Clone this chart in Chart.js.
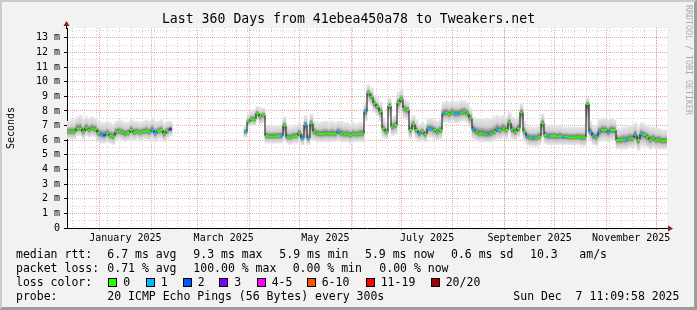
<!DOCTYPE html>
<html>
<head>
<meta charset="utf-8">
<script src="https://cdn.jsdelivr.net/npm/chart.js@4.4.1/dist/chart.umd.min.js"></script>
<style>
  html, body { margin: 0; padding: 0; background: #fff; }
  #wrap { position: relative; width: 697px; height: 310px; background: #f2f2f2; overflow: hidden; }
  #frame { position: absolute; left: 0; top: 0; right: 0; bottom: 0; border-top: 2px solid #cbcbcb; border-left: 2px solid #cbcbcb; border-right: 3px solid #9c9c9c; border-bottom: 3px solid #9c9c9c; pointer-events: none; }
  canvas { position: absolute; left: 0; top: 0; }
  .t { position: absolute; font: 11.5px "DejaVu Sans Mono", monospace; white-space: pre; line-height: 14px; color: #000; }
  .box { position: absolute; top: 278px; width: 9px; height: 9px; box-sizing: border-box; border: 1px solid #000; }
  #mark { position: absolute; left: 684px; top: 5px; writing-mode: vertical-rl; font: 8.3px "DejaVu Sans Mono", monospace; color: #ababab; }
</style>
</head>
<body>
<div id="wrap">
  <canvas id="chart" width="697" height="310"></canvas>
  <div id="mark">RRDTOOL / TOBI OETIKER</div>
  <div id="legend"></div>
  <div id="frame"></div>
</div>
<script>
// time frame: last 360 days up to the graph timestamp
const END = Date.UTC(2025, 11, 7, 11, 9, 58);
const DAY = 864e5;
const SPAN = 360;
const START = END - SPAN * DAY;
const STEP = 1.8; // days per sample column

// median rtt in ms, one value per sample (null = no data)
const median = [
  6.58, 6.58, 6.58, 6.81, 6.81, 6.58, 6.85, 6.72, 6.81, 6.76,
  6.5, 6.4, 6.35, 6.45, 6.3, 6.27, 6.58, 6.58, 6.54, 6.45,
  6.5, 6.7, 6.54, 6.58, 6.54, 6.58, 6.63, 6.58, 6.7, 6.5,
  6.63, 6.7, 6.45, 6.63, 6.76,
  null, null, null, null, null, null, null, null, null, null, null, null,
  null, null, null, null, null, null, null, null, null, null, null, null,
  6.58, 7.27, 7.43, 7.43, 7.84, 7.61, 7.72, 6.29, 6.26, 6.26,
  6.26, 6.29, 6.29, 7.0, 6.2, 6.2, 6.26, 6.29, 6.47, 6.13,
  7.05, 6.13, 7.16, 6.58, 6.47, 6.43, 6.43, 6.47, 6.43, 6.47,
  6.43, 6.58, 6.47, 6.4, 6.43, 6.36, 6.43, 6.4, 6.43, 6.47,
  7.95, 9.25, 8.98, 8.52, 8.29, 7.95, 6.81, 6.58, 8.34, 6.93,
  7.04, 8.57, 8.8, 8.18, 8.07, 6.7, 7.1, 6.7, 6.47, 6.58,
  6.4, 6.81, 6.81, 6.7, 6.58, 6.7, 7.84, 7.88, 7.8, 7.9,
  7.84, 7.84, 7.9, 7.95, 7.84, 7.5, 6.74, 6.58, 6.47, 6.47,
  6.4, 6.4, 6.47, 6.58, 6.74, 6.7, 6.81, 6.7, 7.2, 6.74,
  6.58, 6.81, 7.9, 6.58, 6.24, 6.17, 6.17, 6.17, 6.24, 7.16,
  6.36, 6.29, 6.29, 6.29, 6.24, 6.29, 6.24, 6.24, 6.2, 6.2,
  6.2, 6.24, 6.2, 6.2, 8.47, 6.58, 6.29, 6.2, 6.58, 6.7,
  6.7, 6.58, 6.7, 6.7, 6.01, 6.01, 6.05, 6.05, 6.13, 6.13,
  6.36, 6.01, 6.43, 6.36, 6.24, 6.05, 6.13, 6.01, 6.05, 5.95, 5.95
];

// upper edge of the smoke (ms)
const smokeHi = [
  7.3, 7.4, 7.4, 7.6, 7.7, 7.5, 7.6, 7.5, 7.6, 7.5,
  7.3, 7.2, 7.2, 7.3, 7.2, 7.1, 7.3, 7.4, 7.3, 7.2,
  7.2, 7.4, 7.3, 7.3, 7.2, 7.3, 7.4, 7.3, 7.5, 7.3,
  7.3, 7.4, 7.2, 7.3, 7.3,
  null, null, null, null, null, null, null, null, null, null, null, null,
  null, null, null, null, null, null, null, null, null, null, null, null,
  7.0, 7.8, 8.0, 8.1, 8.3, 8.2, 8.2, 7.0, 7.0, 7.0,
  7.0, 7.0, 7.0, 7.6, 7.0, 6.9, 7.0, 7.0, 7.2, 6.9,
  7.7, 6.9, 7.8, 7.3, 7.2, 7.2, 7.3, 7.3, 7.2, 7.3,
  7.2, 7.3, 7.3, 7.2, 7.2, 7.1, 7.2, 7.1, 7.2, 7.2,
  8.6, 9.8, 9.6, 9.1, 8.9, 8.6, 7.5, 7.2, 8.9, 7.6,
  7.7, 9.3, 9.5, 8.8, 8.7, 7.4, 7.7, 7.4, 7.1, 7.2,
  7.1, 7.5, 7.5, 7.4, 7.3, 7.4, 8.6, 8.7, 8.6, 8.7,
  8.6, 8.6, 8.7, 8.7, 8.6, 8.2, 7.6, 7.5, 7.5, 7.5,
  7.5, 7.5, 7.5, 7.6, 7.7, 7.6, 7.7, 7.6, 7.9, 7.6,
  7.5, 7.6, 8.5, 7.3, 7.0, 6.9, 6.9, 6.9, 7.0, 7.8,
  7.1, 7.0, 7.0, 7.0, 7.0, 7.0, 6.9, 6.9, 6.9, 6.9,
  6.9, 6.9, 6.9, 6.9, 8.9, 7.3, 7.0, 7.0, 7.4, 7.5,
  7.5, 7.4, 7.5, 7.4, 6.9, 6.8, 6.9, 6.9, 7.0, 7.0,
  7.2, 6.9, 7.2, 7.1, 7.0, 6.9, 6.9, 6.8, 6.8, 6.7, 6.7
];

// lower edge of the smoke (ms)
const smokeLo = [
  6.1, 6.1, 6.1, 6.3, 6.3, 6.1, 6.3, 6.2, 6.3, 6.2,
  5.9, 5.8, 5.8, 5.9, 5.8, 5.7, 6.0, 6.1, 6.0, 5.9,
  6.0, 6.1, 6.0, 6.1, 6.0, 6.1, 6.1, 6.0, 6.1, 5.9,
  6.1, 6.1, 5.9, 6.1, 6.3,
  null, null, null, null, null, null, null, null, null, null, null, null,
  null, null, null, null, null, null, null, null, null, null, null, null,
  6.2, 6.9, 7.0, 7.0, 7.4, 7.1, 7.2, 5.8, 5.8, 5.8,
  5.8, 5.8, 5.8, 6.0, 5.8, 5.7, 5.8, 5.8, 5.9, 5.7,
  6.0, 5.7, 6.0, 6.0, 5.9, 5.9, 5.9, 5.9, 5.9, 5.9,
  5.9, 6.0, 5.9, 5.9, 5.9, 5.8, 5.9, 5.9, 5.9, 5.9,
  7.3, 8.6, 8.4, 7.9, 7.7, 7.3, 6.2, 6.1, 7.6, 6.3,
  6.4, 7.8, 8.1, 7.5, 7.4, 6.1, 6.5, 6.1, 5.9, 6.0,
  5.9, 6.2, 6.2, 6.1, 6.0, 6.1, 7.2, 7.3, 7.2, 7.3,
  7.2, 7.2, 7.3, 7.3, 7.2, 6.9, 6.1, 6.0, 5.9, 5.9,
  5.9, 5.9, 5.9, 6.0, 6.1, 6.1, 6.2, 6.1, 6.5, 6.1,
  6.0, 6.2, 7.0, 6.0, 5.7, 5.6, 5.6, 5.6, 5.7, 6.2,
  5.8, 5.7, 5.7, 5.7, 5.7, 5.7, 5.7, 5.7, 5.7, 5.7,
  5.7, 5.7, 5.6, 5.6, 6.5, 6.0, 5.7, 5.6, 5.9, 6.0,
  6.0, 5.9, 6.0, 6.0, 5.4, 5.4, 5.4, 5.4, 5.5, 5.5,
  5.6, 5.3, 5.6, 5.6, 5.5, 5.4, 5.5, 5.4, 5.4, 5.4, 5.4
];

// lost pings bucket per sample (index into lossColors)
const loss = [
  0, 0, 0, 0, 0, 0, 0, 0, 0, 0,
  0, 1, 2, 0, 0, 0, 0, 0, 0, 0,
  0, 0, 0, 0, 0, 0, 0, 0, 1, 1,
  0, 0, 0, 0, 3,
  0, 0, 0, 0, 0, 0, 0, 0, 0, 0, 0, 0,
  0, 0, 0, 0, 0, 0, 0, 0, 0, 0, 0, 0,
  1, 0, 0, 0, 0, 0, 0, 0, 0, 0,
  0, 0, 1, 0, 0, 0, 0, 0, 0, 1,
  1, 1, 0, 0, 0, 0, 0, 0, 0, 0,
  0, 1, 0, 0, 0, 0, 0, 0, 0, 0,
  1, 0, 0, 0, 0, 0, 0, 0, 0, 0,
  0, 0, 0, 0, 0, 0, 0, 0, 1, 0,
  0, 1, 1, 0, 0, 0, 1, 0, 0, 0,
  1, 1, 0, 0, 0, 0, 1, 0, 0, 0,
  0, 1, 0, 0, 1, 0, 0, 0, 0, 0,
  0, 0, 0, 0, 1, 0, 1, 0, 0, 0,
  0, 1, 0, 0, 0, 0, 1, 0, 0, 0,
  0, 0, 0, 0, 0, 1, 1, 0, 1, 0,
  0, 1, 0, 0, 0, 0, 0, 1, 0, 0,
  1, 0, 1, 0, 0, 0, 0, 0, 0, 0, 0
];

const lossColors = ['#26ff00', '#00b8ff', '#0059ff', '#7e00ff', '#ff00ff', '#ff5500', '#ff0000', '#a10000'];
const lossLabels = ['0', '1', '2', '3', '4-5', '6-10', '11-19', '20/20'];

const yTicks = [0, 1, 2, 3, 4, 5, 6, 7, 8, 9, 10, 11, 12, 13];
const yMax = 13.67;
const xLabels = ['January 2025', 'March 2025', 'May 2025', 'July 2025', 'September 2025', 'November 2025'];
const xLabelMonths = [0, 2, 4, 6, 8, 10]; // months of 2025

const MONO = '"DejaVu Sans Mono", monospace';

function dayOf(t) { return (t - START) / DAY; }
const sampleDay = median.map((_, i) => STEP / 2 + STEP * i);

const monthStarts = [];
for (let k = -1; k <= 12; k++) {
  const d = dayOf(Date.UTC(2025, k, 1));
  if (d >= 0 && d <= SPAN) monthStarts.push(d);
}
const labelDays = xLabelMonths.map(m => (dayOf(Date.UTC(2025, m, 1)) + dayOf(Date.UTC(2025, m + 1, 1))) / 2);
const weekDays = [];
for (let t = Date.UTC(2024, 11, 16); t <= END; t += 7 * DAY) weekDays.push(dayOf(t));
const halfTicks = yTicks.map(v => v + 0.5).filter(v => v < yMax);

function smokeFill(ctx) {
  const chart = ctx.chart;
  const ys = chart.scales.y;
  const i = ctx.dataIndex;
  if (!ys || smokeHi[i] == null) return '#d8d8d8';
  const top = ys.getPixelForValue(smokeHi[i]);
  const bot = ys.getPixelForValue(smokeLo[i]);
  if (!isFinite(top) || !isFinite(bot) || bot - top < 1) return '#bbbbbb';
  const m = Math.min(0.9, Math.max(0.1, (smokeHi[i] - median[i]) / (smokeHi[i] - smokeLo[i])));
  const g = chart.ctx.createLinearGradient(0, top, 0, bot);
  g.addColorStop(0, '#e8e8e8');
  g.addColorStop(m * 0.55, '#d0d0d0');
  g.addColorStop(m, '#606060');
  g.addColorStop(m + (1 - m) * 0.45, '#c6c6c6');
  g.addColorStop(1, '#e8e8e8');
  return g;
}

const plotBg = {
  id: 'plotBg',
  beforeDraw(chart) {
    const { ctx, chartArea: a } = chart;
    ctx.save();
    ctx.fillStyle = '#ffffff';
    ctx.fillRect(a.left, a.top, a.right - a.left, a.bottom - a.top);
    ctx.restore();
  }
};

const axisArrows = {
  id: 'axisArrows',
  afterDraw(chart) {
    const { ctx, chartArea: a } = chart;
    const x0 = Math.round(a.left) - 0.5;
    const y0 = Math.round(a.bottom) + 0.5;
    ctx.save();
    ctx.strokeStyle = '#000';
    ctx.lineWidth = 1;
    ctx.beginPath();
    ctx.moveTo(x0, a.top + 1); ctx.lineTo(x0, a.top - 3);
    ctx.moveTo(a.right - 1, y0); ctx.lineTo(a.right + 2, y0);
    ctx.stroke();
    ctx.fillStyle = '#8c1c1c';
    ctx.beginPath();
    ctx.moveTo(x0 - 3, a.top - 2); ctx.lineTo(x0 + 3, a.top - 2); ctx.lineTo(x0, a.top - 7);
    ctx.closePath(); ctx.fill();
    ctx.beginPath();
    ctx.moveTo(a.right + 1, y0 - 3); ctx.lineTo(a.right + 1, y0 + 3); ctx.lineTo(a.right + 6, y0);
    ctx.closePath(); ctx.fill();
    ctx.restore();
  }
};

const points = median.map((m, i) => ({ x: sampleDay[i], y: m }));
const smoke = median.map((m, i) => ({ x: sampleDay[i], y: m == null ? null : [smokeLo[i], smokeHi[i]] }));

new Chart(document.getElementById('chart'), {
  type: 'bar',
  data: {
    datasets: [
      {
        type: 'line',
        data: points,
        showLine: false,
        pointStyle: 'line',
        pointRadius: 1.5,
        pointHoverRadius: 1.5,
        pointBorderWidth: 2,
        pointBorderColor: loss.map(l => lossColors[l]),
        pointBackgroundColor: loss.map(l => lossColors[l]),
        order: 0
      },
      {
        type: 'line',
        data: points,
        stepped: 'middle',
        borderColor: '#111',
        borderWidth: 1,
        pointRadius: 0,
        spanGaps: false,
        order: 1
      },
      {
        type: 'bar',
        data: smoke,
        backgroundColor: smokeFill,
        borderWidth: 0,
        barThickness: 3,
        grouped: false,
        order: 2
      }
    ]
  },
  options: {
    responsive: false,
    devicePixelRatio: 1,
    animation: false,
    events: [],
    layout: { padding: { left: 0, right: 0, top: 0, bottom: 62 } },
    plugins: {
      legend: { display: false },
      tooltip: { enabled: false },
      title: {
        display: true,
        text: 'Last 360 Days from 41ebea450a78 to Tweakers.net',
        color: '#000',
        font: { family: MONO, size: 13.2, weight: 'normal' },
        padding: { top: 12, bottom: 0.2 }
      }
    },
    scales: {
      x: { type: 'linear', min: 0, max: SPAN, display: false, offset: false, grid: { offset: false } },
      xMinor: {
        type: 'linear', position: 'bottom', min: 0, max: SPAN, offset: false, weight: 0,
        afterBuildTicks: s => { s.ticks = weekDays.map(v => ({ value: v })); },
        afterFit: s => { s.height = 0; },
        ticks: { display: false, autoSkip: false },
        grid: { offset: false, color: 'rgba(143,143,143,0.45)', drawTicks: false },
        border: { display: false, dash: [1, 2] }
      },
      xMajor: {
        type: 'linear', position: 'bottom', min: 0, max: SPAN, offset: false, weight: 0,
        afterBuildTicks: s => { s.ticks = monthStarts.map(v => ({ value: v })); },
        afterFit: s => { s.height = 0; },
        ticks: { display: false, autoSkip: false },
        grid: { offset: false, color: 'rgba(226,80,80,0.5)', tickColor: 'rgba(226,80,80,0.8)', tickLength: 2, tickBorderDash: [] },
        border: { display: false, dash: [1, 1] }
      },
      xLab: {
        type: 'linear', position: 'bottom', min: 0, max: SPAN, offset: false, weight: 2,
        afterBuildTicks: s => { s.ticks = labelDays.map(v => ({ value: v })); },
        afterFit: s => { s.height = 20; },
        ticks: {
          autoSkip: false, maxRotation: 0, padding: 4, color: '#000',
          font: { family: MONO, size: 10 },
          callback: (v, i) => xLabels[i]
        },
        grid: { display: false, drawTicks: false, offset: false },
        border: { display: true, color: '#000', width: 1 }
      },
      y: {
        type: 'linear', position: 'left', min: 0, max: yMax, weight: 1,
        afterBuildTicks: s => { s.ticks = yTicks.map(v => ({ value: v })); },
        afterFit: s => { s.width = 67; },
        ticks: {
          padding: 4, color: '#000',
          font: { family: MONO, size: 10 },
          callback: v => (v === 0 ? '0' : v + ' m')
        },
        grid: { color: 'rgba(226,80,80,0.5)', tickColor: '#000', tickLength: 3, tickBorderDash: [] },
        border: { display: true, color: '#000', width: 1, dash: [1, 1] },
        title: {
          display: true, text: 'Seconds', color: '#000',
          font: { family: MONO, size: 10 },
          padding: { top: 5, bottom: 0 }
        }
      },
      yMinor: {
        type: 'linear', position: 'left', min: 0, max: yMax, weight: 0,
        afterBuildTicks: s => { s.ticks = halfTicks.map(v => ({ value: v })); },
        afterFit: s => { s.width = 0; },
        ticks: { display: false },
        grid: { color: 'rgba(143,143,143,0.45)', drawTicks: false },
        border: { display: false, dash: [1, 2] }
      },
      yR: {
        type: 'linear', position: 'right', min: 0, max: yMax,
        afterFit: s => { s.width = 30; },
        ticks: { display: false },
        grid: { display: false, drawTicks: false },
        border: { display: false }
      }
    }
  },
  plugins: [plotBg, axisArrows]
});

// gprint-style legend below the graph
const legendRows = [
  { top: 247, parts: [[16, 'median rtt:'], [107.3, '6.7 ms avg'], [193.3, '9.3 ms max'], [279.3, '5.9 ms min'], [365, '5.9 ms now'], [451, '0.6 ms sd'], [530, '10.3'], [579.3, 'am/s']] },
  { top: 261, parts: [[16, 'packet loss:'], [107.3, '0.71 % avg'], [193.3, '100.00 % max'], [292.7, '0.00 % min'], [379.3, '0.00 % now']] },
  { top: 274.7, parts: [[16, 'loss color:']] },
  { top: 288.5, parts: [[16, 'probe:'], [107.3, '20 ICMP Echo Pings (56 Bytes) every 300s'], [513.3, 'Sun Dec  7 11:09:58 2025']] }
];
const lossBoxX = [108.3, 145.7, 182.7, 219.3, 256.7, 306.7, 365.7, 430.7];

const legend = document.getElementById('legend');
legendRows.forEach(row => {
  row.parts.forEach(([x, text]) => {
    const s = document.createElement('span');
    s.className = 't';
    s.style.left = x + 'px';
    s.style.top = row.top + 'px';
    s.textContent = text;
    legend.appendChild(s);
  });
});
lossLabels.forEach((lab, i) => {
  const b = document.createElement('div');
  b.className = 'box';
  b.style.left = lossBoxX[i] + 'px';
  b.style.background = lossColors[i];
  legend.appendChild(b);
  const s = document.createElement('span');
  s.className = 't';
  s.style.left = (lossBoxX[i] + 15) + 'px';
  s.style.top = '274.7px';
  s.textContent = lab;
  legend.appendChild(s);
});
</script>
</body>
</html>
